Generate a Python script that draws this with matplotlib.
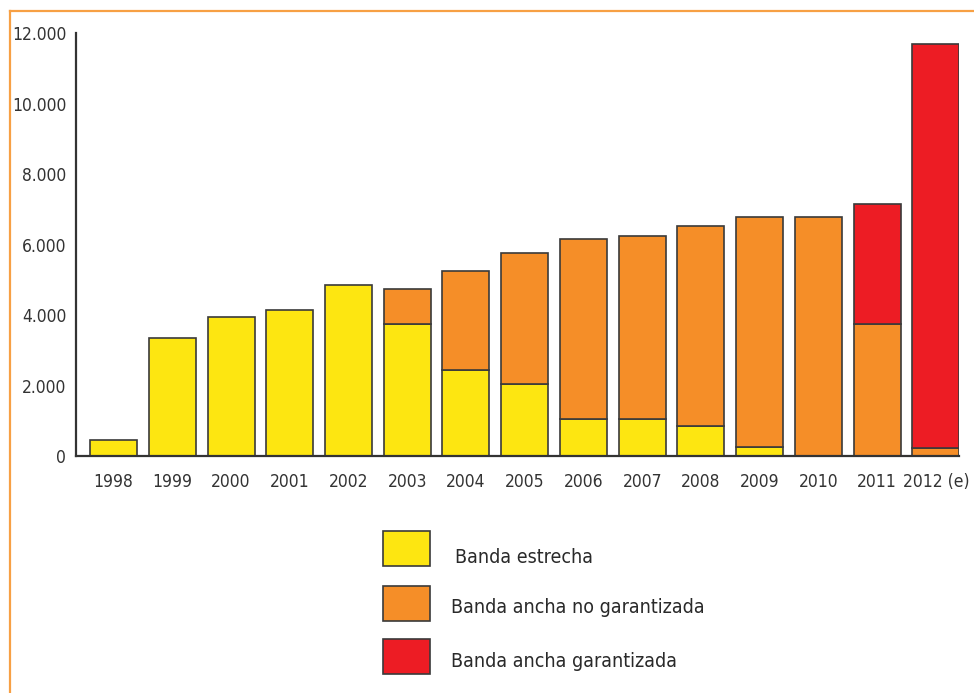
import matplotlib
matplotlib.use("Agg")
import matplotlib.pyplot as plt
from matplotlib.patches import Rectangle
from matplotlib.lines import Line2D
import numpy as np

plt.rcParams['font.family'] = ['DejaVu Sans']
plt.rcParams['font.stretch'] = 'condensed'

years = ["1998", "1999", "2000", "2001", "2002", "2003", "2004", "2005",
         "2006", "2007", "2008", "2009", "2010", "2011", "2012 (e)"]
banda_estrecha = [450, 3350, 3950, 4150, 4850, 3750, 2450, 2050,
                  1050, 1050, 850, 250, 0, 0, 0]
banda_ancha_no_gar = [0, 0, 0, 0, 0, 1000, 2800, 3700,
                      5100, 5200, 5680, 6530, 6780, 3750, 230]
banda_ancha_gar = [0, 0, 0, 0, 0, 0, 0, 0,
                   0, 0, 0, 0, 0, 3400, 11460]
series_names = ["Banda estrecha", "Banda ancha no garantizada", "Banda ancha garantizada"]
yticks = [0, 2000, 4000, 6000, 8000, 10000, 12000]
ytick_labels = ["0", "2.000", "4.000", "6.000", "8.000", "10.000", "12.000"]

colors = ["#FDE611", "#F58E28", "#ED1C24"]
edge = "#3a3a3a"

fig = plt.figure(figsize=(9.74, 6.93), dpi=100)
ax = fig.add_axes([0.078, 0.342, 0.907, 0.610])

x = np.arange(len(years))
series = [banda_estrecha, banda_ancha_no_gar, banda_ancha_gar]
bottom = np.zeros(len(years))
for vals, c in zip(series, colors):
    v = np.array(vals, dtype=float)
    mask = v > 0
    ax.bar(x[mask], v[mask], bottom=bottom[mask], width=0.8, color=c,
           edgecolor=edge, linewidth=1.2, zorder=2)
    bottom += v

ax.set_xlim(-0.64, 14.4)
ax.set_ylim(0, 12000)
ax.set_yticks(yticks)
ax.set_yticklabels(ytick_labels)
ax.set_xticks(x)
ax.set_xticklabels(years)
ax.tick_params(axis='both', length=0, labelsize=12.5, colors="#333333")
ax.tick_params(axis='y', pad=7)
ax.tick_params(axis='x', pad=12)
for s in ["top", "right"]:
    ax.spines[s].set_visible(False)
for s in ["left", "bottom"]:
    ax.spines[s].set_color("#333333")
    ax.spines[s].set_linewidth(1.6)

W, H = 974.0, 693.0
fig.add_artist(Line2D([10 / W, 10 / W], [0, 1 - 11 / H], transform=fig.transFigure,
                      color="#F7A044", lw=1.6))
fig.add_artist(Line2D([10 / W, 1], [1 - 11 / H, 1 - 11 / H], transform=fig.transFigure,
                      color="#F7A044", lw=1.6))

leg_y = [531, 586, 639]
text_x = [455, 451, 451]
text_base = [563, 613, 667]
for name, c, yy, tx, tb in zip(series_names, colors, leg_y, text_x, text_base):
    fig.add_artist(Rectangle((383 / W, 1 - (yy + 35) / H), 47 / W, 35 / H,
                             transform=fig.transFigure, facecolor=c,
                             edgecolor=edge, linewidth=1.2))
    fig.text(tx / W, 1 - tb / H, name, fontsize=14, color="#2a2a2a",
             va="baseline", ha="left")

fig.savefig("out.png", dpi=100)
